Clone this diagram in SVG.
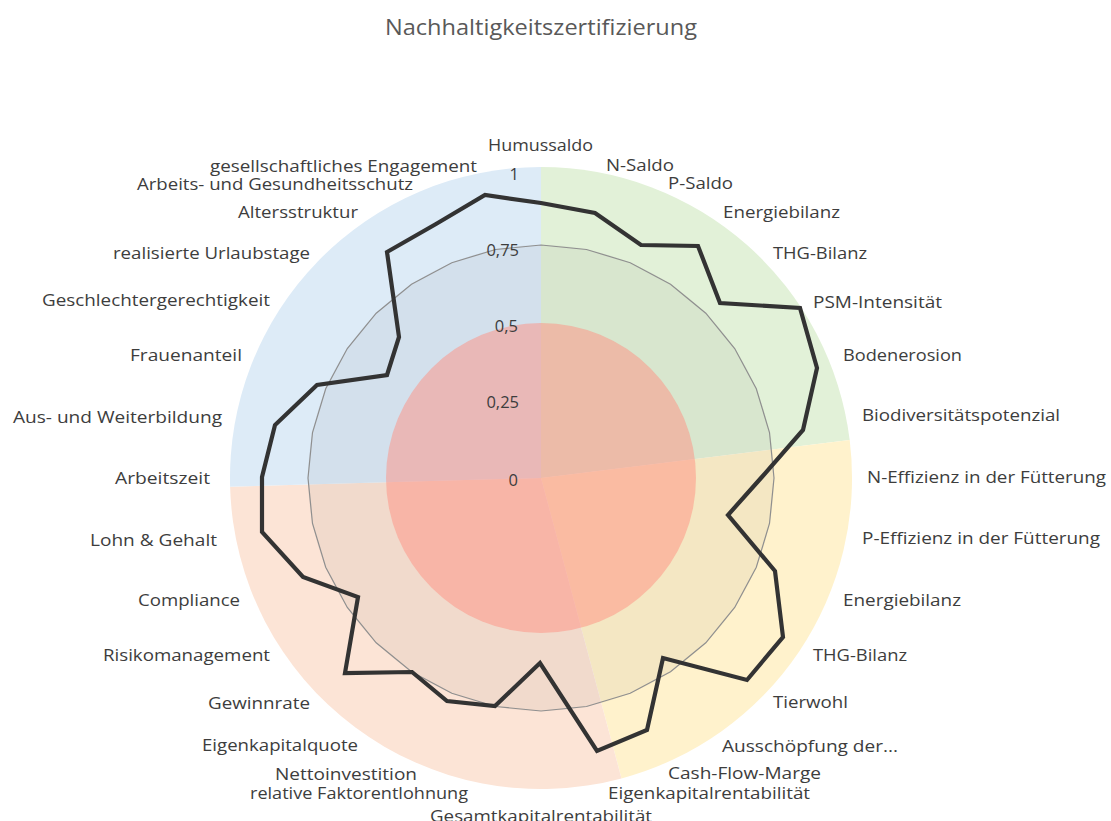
<svg xmlns="http://www.w3.org/2000/svg" width="1111" height="821" viewBox="0 0 1111 821">
<style>
.lbl{font-family:"Open Sans","Liberation Sans",sans-serif;font-size:16px;fill:#3d3d3d;}
.ax{font-family:"Open Sans","Liberation Sans",sans-serif;font-size:16.5px;fill:#3d3d3d;text-anchor:end;}
.title{font-family:"Open Sans","Liberation Sans",sans-serif;font-size:21px;fill:#595959;}
</style>
<rect width="1111" height="821" fill="#ffffff"/>
<g id="background">
<path d="M541,478 L541,167 A311,311 0 0 1 849.7,440.1 Z" fill="#E2F1D8"/>
<path d="M541,478 L849.7,440.1 A311,311 0 0 1 621.5,778.4 Z" fill="#FFF2CC"/>
<path d="M541,478 L621.5,778.4 A311,311 0 0 1 230.1,486.7 Z" fill="#FCE4D6"/>
<path d="M541,478 L230.1,486.7 A311,311 0 0 1 541,167 Z" fill="#DDEBF7"/>
<circle cx="541" cy="478" r="233" fill="#000000" fill-opacity="0.045"/>
<circle cx="541" cy="478" r="155" fill="#FF8F81" fill-opacity="0.5"/>
</g>
<g id="grid">
<polygon points="541,245 586.5,249.5 630.2,262.7 670.5,284.3 705.8,313.2 734.7,348.5 756.3,388.8 769.5,432.5 774,478 769.5,523.5 756.3,567.2 734.7,607.5 705.8,642.8 670.5,671.7 630.2,693.3 586.5,706.5 541,711 495.5,706.5 451.8,693.3 411.5,671.7 376.2,642.8 347.3,607.5 325.7,567.2 312.5,523.5 308,478 312.5,432.5 325.7,388.8 347.3,348.5 376.2,313.2 411.5,284.3 451.8,262.7 495.5,249.5" fill="none" stroke="#8f8f8f" stroke-width="1.2"/>
</g>
<g id="connectors">
<polygon id="series" points="541,203 595,213 641,245 698,246 720,303 800,308 817,368 803,430 761,478 728,515 775,571 783,637 747,680 663,658 647,730 597,751 540,663 495,706 447,701 412,672 345,673 358,597 303,577 262,532 262,477 275,425 317,385 387,375 399,337 387,252 436,224 485,195" fill="none" stroke="#333333" stroke-width="4.2" stroke-linejoin="miter"/>
</g>
<g id="axis-values">
<text class="ax" x="519" y="180">1</text>
<text class="ax" x="519" y="256">0,75</text>
<text class="ax" x="518" y="332">0,5</text>
<text class="ax" x="519" y="408">0,25</text>
<text class="ax" x="518" y="486">0</text>
</g>
<g id="title"><text class="title" x="385" y="35" textLength="312" lengthAdjust="spacingAndGlyphs">Nachhaltigkeitszertifizierung</text></g>
<g id="labels">
<g id="n0"><text class="lbl" x="488" y="151" textLength="105" lengthAdjust="spacingAndGlyphs">Humussaldo</text></g>
<g id="n1"><text class="lbl" x="606" y="171" textLength="68" lengthAdjust="spacingAndGlyphs">N-Saldo</text></g>
<g id="n2"><text class="lbl" x="668" y="189" textLength="65" lengthAdjust="spacingAndGlyphs">P-Saldo</text></g>
<g id="n3"><text class="lbl" x="723" y="218" textLength="117" lengthAdjust="spacingAndGlyphs">Energiebilanz</text></g>
<g id="n4"><text class="lbl" x="773" y="259" textLength="94" lengthAdjust="spacingAndGlyphs">THG-Bilanz</text></g>
<g id="n5"><text class="lbl" x="813" y="308" textLength="129" lengthAdjust="spacingAndGlyphs">PSM-Intensität</text></g>
<g id="n6"><text class="lbl" x="843" y="361" textLength="119" lengthAdjust="spacingAndGlyphs">Bodenerosion</text></g>
<g id="n7"><text class="lbl" x="862" y="421" textLength="198" lengthAdjust="spacingAndGlyphs">Biodiversitätspotenzial</text></g>
<g id="n8"><text class="lbl" x="867" y="483" textLength="239" lengthAdjust="spacingAndGlyphs">N-Effizienz in der Fütterung</text></g>
<g id="n9"><text class="lbl" x="862" y="544" textLength="238" lengthAdjust="spacingAndGlyphs">P-Effizienz in der Fütterung</text></g>
<g id="n10"><text class="lbl" x="843" y="606" textLength="118" lengthAdjust="spacingAndGlyphs">Energiebilanz</text></g>
<g id="n11"><text class="lbl" x="813" y="661" textLength="94" lengthAdjust="spacingAndGlyphs">THG-Bilanz</text></g>
<g id="n12"><text class="lbl" x="773" y="708" textLength="75" lengthAdjust="spacingAndGlyphs">Tierwohl</text></g>
<g id="n13"><text class="lbl" x="722" y="752" textLength="176" lengthAdjust="spacingAndGlyphs">Ausschöpfung der...</text></g>
<g id="n14"><text class="lbl" x="668" y="779" textLength="153" lengthAdjust="spacingAndGlyphs">Cash-Flow-Marge</text></g>
<g id="n15"><text class="lbl" x="608" y="799" textLength="202" lengthAdjust="spacingAndGlyphs">Eigenkapitalrentabilität</text></g>
<g id="n16"><text class="lbl" x="430" y="822" textLength="222" lengthAdjust="spacingAndGlyphs">Gesamtkapitalrentabilität</text></g>
<g id="n17"><text class="lbl" x="250" y="799" textLength="218" lengthAdjust="spacingAndGlyphs">relative Faktorentlohnung</text></g>
<g id="n18"><text class="lbl" x="275" y="780" textLength="142" lengthAdjust="spacingAndGlyphs">Nettoinvestition</text></g>
<g id="n19"><text class="lbl" x="202" y="751" textLength="156" lengthAdjust="spacingAndGlyphs">Eigenkapitalquote</text></g>
<g id="n20"><text class="lbl" x="208" y="709" textLength="102" lengthAdjust="spacingAndGlyphs">Gewinnrate</text></g>
<g id="n21"><text class="lbl" x="103" y="661" textLength="167" lengthAdjust="spacingAndGlyphs">Risikomanagement</text></g>
<g id="n22"><text class="lbl" x="138" y="606" textLength="102" lengthAdjust="spacingAndGlyphs">Compliance</text></g>
<g id="n23"><text class="lbl" x="90" y="546" textLength="127" lengthAdjust="spacingAndGlyphs">Lohn &amp; Gehalt</text></g>
<g id="n24"><text class="lbl" x="115" y="484" textLength="95" lengthAdjust="spacingAndGlyphs">Arbeitszeit</text></g>
<g id="n25"><text class="lbl" x="13" y="423" textLength="209" lengthAdjust="spacingAndGlyphs">Aus- und Weiterbildung</text></g>
<g id="n26"><text class="lbl" x="130" y="361" textLength="112" lengthAdjust="spacingAndGlyphs">Frauenanteil</text></g>
<g id="n27"><text class="lbl" x="42" y="306" textLength="228" lengthAdjust="spacingAndGlyphs">Geschlechtergerechtigkeit</text></g>
<g id="n28"><text class="lbl" x="113" y="259" textLength="197" lengthAdjust="spacingAndGlyphs">realisierte Urlaubstage</text></g>
<g id="n29"><text class="lbl" x="238" y="218" textLength="120" lengthAdjust="spacingAndGlyphs">Altersstruktur</text></g>
<g id="n30"><text class="lbl" x="137" y="190" textLength="276" lengthAdjust="spacingAndGlyphs">Arbeits- und Gesundheitsschutz</text></g>
<g id="n31"><text class="lbl" x="210" y="172" textLength="267" lengthAdjust="spacingAndGlyphs">gesellschaftliches Engagement</text></g>
</g>
</svg>
